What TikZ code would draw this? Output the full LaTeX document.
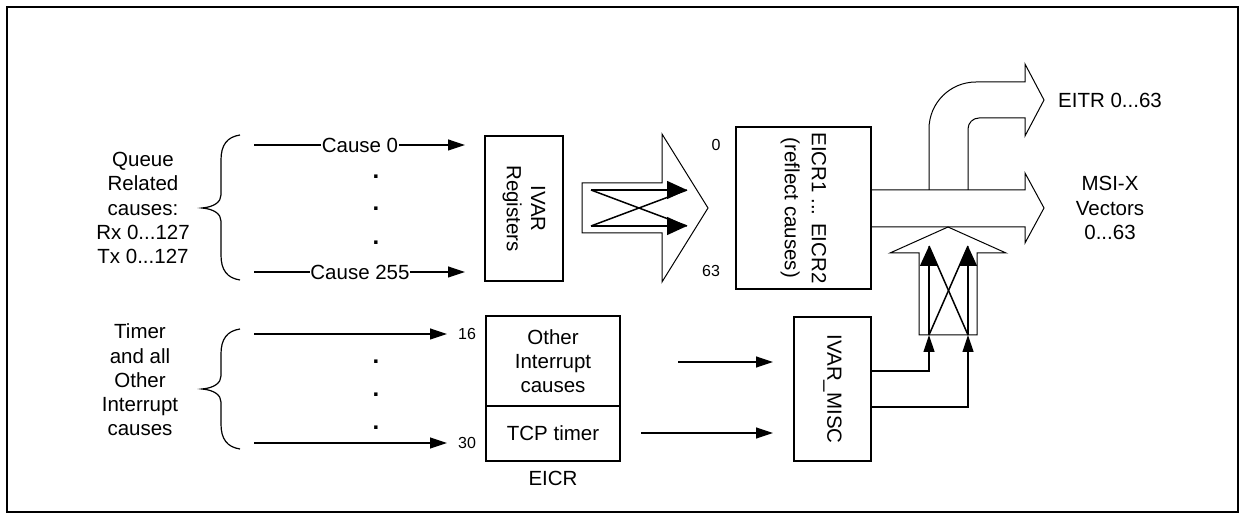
\documentclass[tikz,border=0pt]{standalone}
\usepackage{fontspec}
\setmainfont{Liberation Sans}
\usetikzlibrary{arrows.meta}
\newcommand\mybrace[3]{%
  \draw[thin] (240,#1) .. controls (227,#1+2) and (221,#1+10) .. (221,#1+25)
    -- (221,#2-13) .. controls (221,#2-6) and (214,#2-1) .. (202,#2)
    .. controls (214,#2+1) and (221,#2+6) .. (221,#2+13)
    -- (221,#3-25) .. controls (221,#3-10) and (227,#3-2) .. (240,#3);}
\begin{document}
\begin{tikzpicture}[x=1bp,y=-1bp,
  txt/.style={font=\fontsize{20.5bp}{24.2bp}\selectfont, inner sep=0pt, align=center},
  sm/.style={font=\fontsize{16bp}{19bp}\selectfont, inner sep=0pt},
  dotn/.style={font=\fontsize{24bp}{24bp}\selectfont\bfseries, inner sep=0pt},
  box/.style={draw, line width=1.6bp, inner sep=0pt},
  fat/.style={draw, line width=1bp, line join=miter},
  thin/.style={line width=1.2bp},
  conn/.style={line width=1.2bp, -{Triangle[length=17bp,width=11bp]}},
  bigtip/.style={line width=1.5bp, -{Triangle[length=20bp,width=18bp]}},
]
\useasboundingbox (0,0) rectangle (1251,523);
\draw[line width=2.5bp] (7,7) rectangle (1238,512);

% ---------- upper inputs ----------
\node[txt] (qtxt) at (143,208) {Queue\\Related\\causes:\\Rx 0...127\\Tx 0...127};
\mybrace{135}{208}{280}
\coordinate (c0s) at (254,145);
\coordinate (c0e) at (465,145);
\coordinate (c255s) at (254,272);
\coordinate (c255e) at (465,272);
\node[txt, inner sep=0.5bp] (c0) at (360,145) {Cause 0};
\node[txt, inner sep=0.5bp] (c255) at (360,272) {Cause 255};
\draw[thin] (c0s) -- (c0);
\draw[conn] (c0) -- (c0e);
\draw[thin] (c255s) -- (c255);
\draw[conn] (c255) -- (c255e);
\node[dotn] (qd1) at (376,177) {.};
\node[dotn] (qd2) at (376,209) {.};
\node[dotn] (qd3) at (376,243) {.};

% ---------- IVAR registers ----------
\node[box, minimum width=78bp, minimum height=145bp] (ivar) at (524,208.5) {};
\node[txt, rotate=-90] (ivart) at (ivar.center) {IVAR\\Registers};

% ---------- fat arrow IVAR -> EICR ----------
\draw[fat] (582,183) -- (662,183) -- (662,134) -- (708,208) -- (662,282) -- (662,233) -- (582,233) -- cycle;
\coordinate (fa1) at (591,190);
\coordinate (fa2) at (591,226);
\coordinate (fb1) at (687,190);
\coordinate (fb2) at (687,226);
\draw[bigtip] (fa1) -- (fb1);
\draw[bigtip] (fa2) -- (fb2);
\draw[line width=1.5bp] (fa1) -- (fb2);
\draw[line width=1.5bp] (fa2) -- (fb1);
\node[sm] (l0) at (716,145) {0};
\node[sm] (l63) at (711,271) {63};

% ---------- EICR1..EICR2 ----------
\node[box, minimum width=135bp, minimum height=162bp] (eicr) at (803.5,208) {};
\node[txt, rotate=-90, font=\fontsize{20.5bp}{27bp}\selectfont] (eicrt) at (eicr.center) {EICR1 ... EICR2\\(reflect causes)};

% ---------- MSI-X fat arrow ----------
\draw[fat] (871,190) -- (1025,190) -- (1025,173) -- (1044,208) -- (1025,243) -- (1025,227) -- (871,227);
% ---------- EITR bent arrow ----------
\draw[fat] (968,190) -- (968,129) .. controls (968,122.9) and (972.9,118) .. (979,118)
  -- (1025,118) -- (1025,136) -- (1044,100) -- (1025,64) -- (1025,82)
  -- (976,82) .. controls (950,82) and (929,103) .. (929,129) -- (929,190);
\node[txt, anchor=west] (eitr) at (1058,100) {EITR 0...63};
\node[txt] (msix) at (1110,208) {MSI-X\\Vectors\\0...63};

% ---------- up fat arrow ----------
\draw[fat] (919,335) -- (919,253) -- (890,253) -- (948,227) -- (1006,253) -- (977,253) -- (977,335) -- cycle;
\coordinate (ua1) at (929,335);
\coordinate (ua2) at (968,335);
\coordinate (ub1) at (929,246);
\coordinate (ub2) at (968,246);
\draw[bigtip] (ua1) -- (ub1);
\draw[bigtip] (ua2) -- (ub2);
\draw[line width=1.5bp] (ua1) -- (ub2);
\draw[line width=1.5bp] (ua2) -- (ub1);

% ---------- lower inputs ----------
\node[txt] (ttxt) at (140,380) {Timer\\and all\\Other\\Interrupt\\causes};
\mybrace{329}{389}{449}
\coordinate (t16s) at (254,334);
\coordinate (t16e) at (447,334);
\coordinate (t30s) at (254,443);
\coordinate (t30e) at (447,443);
\draw[conn] (t16s) -- (t16e);
\draw[conn] (t30s) -- (t30e);
\node[sm] (l16) at (467,334) {16};
\node[sm] (l30) at (467,443) {30};
\node[dotn] (td1) at (376,362) {.};
\node[dotn] (td2) at (376,395) {.};
\node[dotn] (td3) at (376,428) {.};

% ---------- EICR (other / TCP) ----------
\node[box, minimum width=134bp, minimum height=90bp] (other) at (553,361) {};
\node[box, minimum width=134bp, minimum height=55bp] (tcp) at (553,433.5) {};
\node[txt] (othert) at (other.center) {Other\\Interrupt\\causes};
\node[txt] (tcpt) at (tcp.center) {TCP timer};
\node[txt] (eicrl) at (553,478) {EICR};

% ---------- IVAR_MISC ----------
\node[box, minimum width=77bp, minimum height=144bp] (misc) at (832.5,389) {};
\node[txt, rotate=-90] (misct) at (misc.center) {IVAR\_MISC};
\coordinate (m1s) at (678,362);
\coordinate (m1e) at (773,362);
\coordinate (m2s) at (641,433);
\coordinate (m2e) at (773,433);
\draw[conn] (m1s) -- (m1e);
\draw[conn] (m2s) -- (m2e);
\draw[conn] (misc.east |- 0,371) -| (ua1);
\draw[conn] (misc.east |- 0,407) -| (ua2);
\end{tikzpicture}
\end{document}
